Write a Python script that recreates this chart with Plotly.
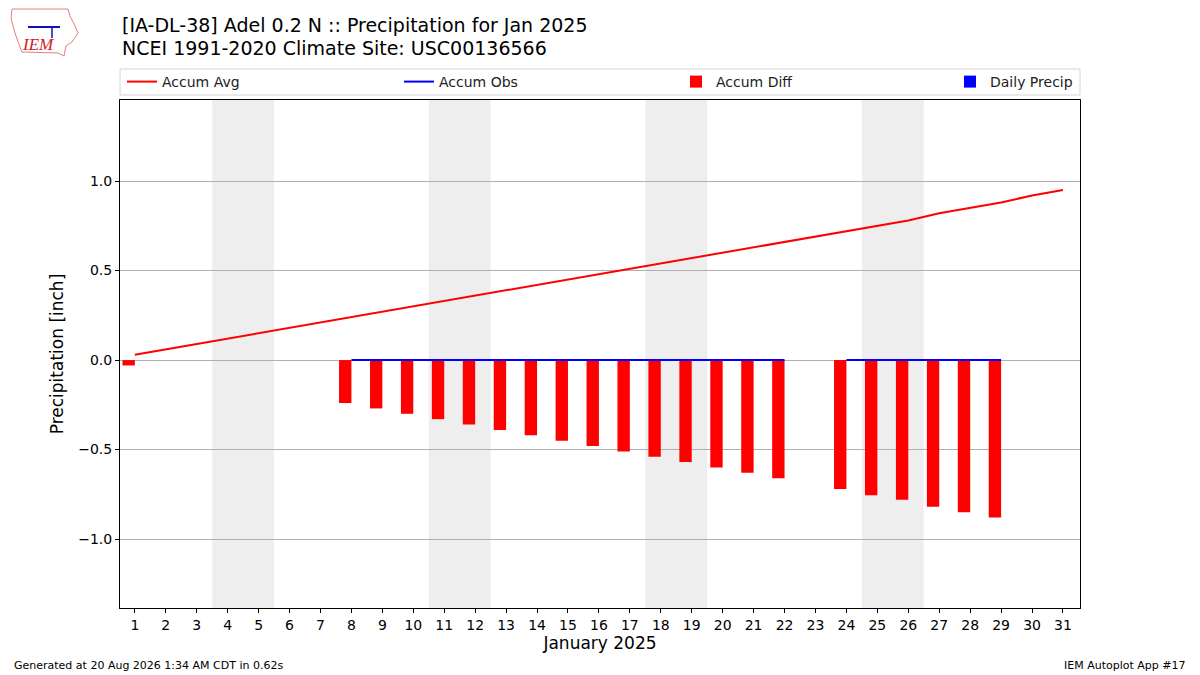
import plotly.graph_objects as go

# January 2025, Adel 0.2 N (IA-DL-38)
days = list(range(1, 32))
accum_avg = [0.03, 0.06, 0.09, 0.12, 0.15, 0.18, 0.21, 0.24, 0.27, 0.30,
             0.33, 0.36, 0.39, 0.42, 0.45, 0.48, 0.51, 0.54, 0.57, 0.60,
             0.63, 0.66, 0.69, 0.72, 0.75, 0.78, 0.82, 0.85, 0.88, 0.92, 0.95]
accum_obs = [0.0, None, None, None, None, None, None,
             0.0, 0.0, 0.0, 0.0, 0.0, 0.0, 0.0, 0.0, 0.0, 0.0, 0.0, 0.0, 0.0, 0.0, 0.0,
             None, 0.0, 0.0, 0.0, 0.0, 0.0, 0.0, None, None]
accum_diff = [-0.03, None, None, None, None, None, None,
              -0.24, -0.27, -0.30, -0.33, -0.36, -0.39, -0.42, -0.45, -0.48,
              -0.51, -0.54, -0.57, -0.60, -0.63, -0.66,
              None, -0.72, -0.755, -0.78, -0.82, -0.85, -0.88, None, None]
daily_precip = [0.0 if v is not None else None for v in accum_obs]
weekends = [(4, 5), (11, 12), (18, 19), (25, 26)]

title1 = "[IA-DL-38] Adel 0.2 N :: Precipitation for Jan 2025"
title2 = "NCEI 1991-2020 Climate Site: USC00136566"
footer_left = "Generated at 20 Aug 2026 1:34 AM CDT in 0.62s"
footer_right = "IEM Autoplot App #17"

FONT = "DejaVu Sans"

# plot area in pixels: x 120..1080, y 100..608
def px(x):
    return (x - 120) / 960.0

def py(y):
    return (608 - y) / 508.0

fig = go.Figure()

fig.add_trace(go.Scatter(x=days, y=accum_avg, mode="lines", name="Accum Avg",
                         line=dict(color="red", width=2), legend="legend"))
fig.add_trace(go.Scatter(x=days, y=accum_obs, mode="lines", name="Accum Obs",
                         line=dict(color="blue", width=2), legend="legend2"))
fig.add_trace(go.Bar(x=[d - 0.2 for d in days], y=accum_diff, width=0.4,
                     name="Accum Diff", marker=dict(color="red", line_width=0),
                     legend="legend3"))
fig.add_trace(go.Bar(x=[d + 0.2 for d in days], y=daily_precip, width=0.4,
                     name="Daily Precip", marker=dict(color="blue", line_width=0),
                     legend="legend4"))

for a, b in weekends:
    fig.add_vrect(x0=a - 0.5, x1=b + 0.5, fillcolor="#eeeeee", line_width=0,
                  layer="below")

leg = dict(orientation="h", yanchor="middle", y=py(82), xanchor="left",
           bgcolor="rgba(0,0,0,0)", borderwidth=0, itemwidth=30,
           font=dict(family=FONT, size=14, color="#222222"))

fig.update_layout(
    width=1200, height=675,
    margin=dict(l=120, r=120, t=100, b=67),
    paper_bgcolor="white", plot_bgcolor="white",
    font=dict(family=FONT, size=14, color="black"),
    barmode="overlay",
    showlegend=True,
    legend=dict(leg, x=px(122)),
    legend2=dict(leg, x=px(399)),
    legend3=dict(leg, x=px(676)),
    legend4=dict(leg, x=px(950)),
    xaxis=dict(range=[0.52, 31.55], tickmode="array", tickvals=days,
               ticktext=[str(d) for d in days], ticks="outside", ticklen=4,
               tickcolor="black", showgrid=False, zeroline=False,
               showline=True, linecolor="black", linewidth=1, mirror=True,
               title=dict(text="January 2025", font=dict(size=17), standoff=5),
               tickfont=dict(size=14)),
    yaxis=dict(range=[-1.385, 1.453], tickmode="array",
               tickvals=[-1.0, -0.5, 0.0, 0.5, 1.0],
               ticktext=["\u22121.0", "\u22120.5", "0.0", "0.5", "1.0"],
               ticks="outside", ticklen=4, tickcolor="black",
               showgrid=True, gridcolor="#b0b0b0", gridwidth=1, zeroline=False,
               showline=True, linecolor="black", linewidth=1, mirror=True,
               title=dict(text="Precipitation [inch]", font=dict(size=17), standoff=10),
               tickfont=dict(size=14)),
)

# legend frame
fig.add_shape(type="rect", xref="paper", yref="paper", x0=0, x1=1,
              y0=py(95), y1=py(69), line=dict(color="#d4d4d4", width=1),
              fillcolor="rgba(0,0,0,0)")

# titles
fig.add_annotation(text=title1, xref="paper", yref="paper", x=0, y=py(25),
                   xanchor="left", yanchor="middle", showarrow=False,
                   font=dict(family=FONT, size=19, color="black"))
fig.add_annotation(text=title2, xref="paper", yref="paper", x=0, y=py(48),
                   xanchor="left", yanchor="middle", showarrow=False,
                   font=dict(family=FONT, size=19, color="black"))

# footer
fig.add_annotation(text=footer_left, xref="paper", yref="paper", x=px(12), y=py(665),
                   xanchor="left", yanchor="middle", showarrow=False,
                   font=dict(family=FONT, size=11, color="black"))
fig.add_annotation(text=footer_right, xref="paper", yref="paper", x=px(1188), y=py(665),
                   xanchor="right", yanchor="middle", showarrow=False,
                   font=dict(family=FONT, size=11, color="black"))

# rough IEM logo: state outline + text
outline = [(12, 9), (68, 9), (70, 16), (74, 24), (78, 33), (72, 42), (66, 46),
           (64, 56), (58, 53), (22, 52), (18, 42), (14, 30), (11, 18)]
path = "M " + " L ".join(f"{px(x):.4f},{py(y):.4f}" for x, y in outline) + " Z"
fig.add_shape(type="path", xref="paper", yref="paper", path=path,
              line=dict(color="#e08080", width=1), fillcolor="rgba(0,0,0,0)")
fig.add_shape(type="line", xref="paper", yref="paper", x0=px(28), x1=px(60),
              y0=py(27), y1=py(27), line=dict(color="#1010c0", width=2))
fig.add_shape(type="line", xref="paper", yref="paper", x0=px(52), x1=px(52),
              y0=py(27), y1=py(38), line=dict(color="#1010c0", width=1.5))
fig.add_annotation(text="<i>IEM</i>", xref="paper", yref="paper", x=px(38), y=py(45),
                   xanchor="center", yanchor="middle", showarrow=False,
                   font=dict(family="Liberation Serif", size=17, color="#d02020"))

fig.write_html("out.html", config={"displayModeBar": False},
               post_script="document.body.style.margin='0px';")
